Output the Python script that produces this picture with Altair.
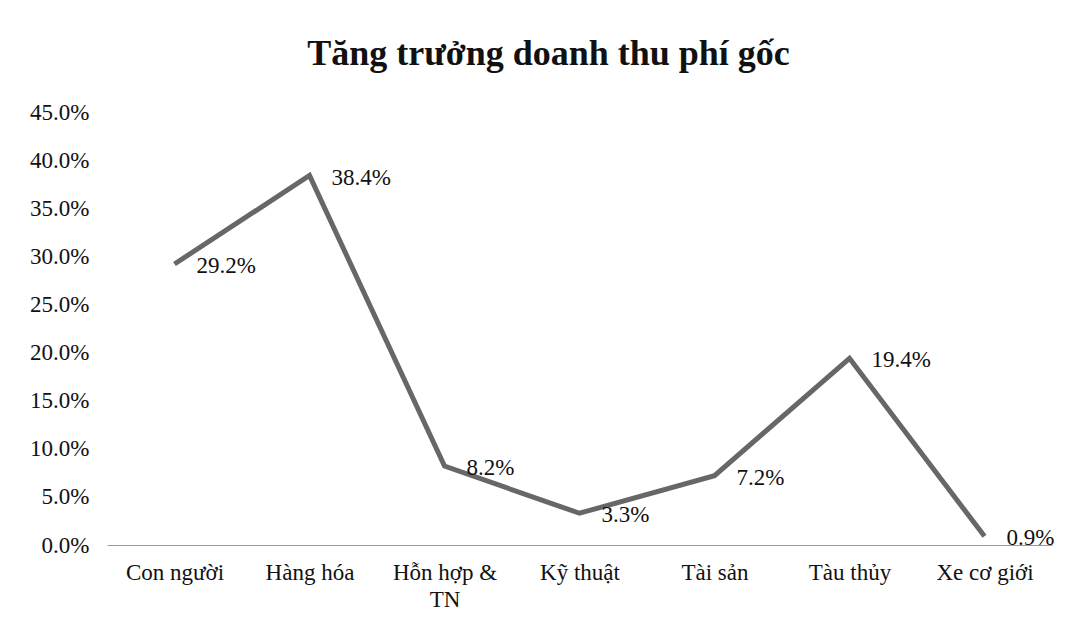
import altair as alt
import pandas as pd

categories = ["Con người", "Hàng hóa", "Hỗn hợp & TN", "Kỹ thuật", "Tài sản", "Tàu thủy", "Xe cơ giới"]
growth = [29.2, 38.4, 8.2, 3.3, 7.2, 19.4, 0.9]
y_ticks = [0, 5, 10, 15, 20, 25, 30, 35, 40, 45]

df = pd.DataFrame({"cat": categories, "val": growth})
df["lbl"] = [f"{v:.1f}%" for v in growth]

FONT = "Liberation Serif"

x = alt.X("cat:N", sort=None, title=None,
          scale=alt.Scale(padding=0.5),
          axis=alt.Axis(labelAngle=0, labelFont=FONT, labelFontSize=23, labelColor="#111",
                        labelPadding=16, ticks=False, domainColor="#9a9a9a", domainWidth=1,
                        labelLineHeight=27, labelBaseline="top",
                        labelExpr="datum.label == 'Hỗn hợp & TN' ? ['Hỗn hợp &', 'TN'] : datum.label"))
y = alt.Y("val:Q", title=None,
          scale=alt.Scale(domain=[0, 45], nice=False),
          axis=alt.Axis(values=y_ticks, labelExpr="format(datum.value, '.1f') + '%'",
                        labelFont=FONT, labelFontSize=23, labelColor="#111",
                        labelPadding=18, ticks=False, domain=False, grid=False))

base = alt.Chart(df)
line = base.mark_line(color="#676767", strokeWidth=5, strokeJoin="miter").encode(x=x, y=y)
text = base.mark_text(align="left", baseline="middle", dx=22, dy=2, font=FONT,
                      fontSize=23, color="#111").encode(x=x, y=y, text="lbl:N")

chart = (line + text).properties(
    width=945, height=433,
    background="white",
    title=alt.TitleParams("Tăng trưởng doanh thu phí gốc", font=FONT, fontSize=36,
                          fontWeight="bold", color="#111", anchor="middle", dx=-31, offset=28),
    autosize=alt.AutoSizeParams(type="none"),
    padding={"left": 99, "top": 104, "right": 10, "bottom": 70},
).configure_view(stroke=None)

chart.save("out.html", embed_options={"renderer": "svg", "actions": False})
